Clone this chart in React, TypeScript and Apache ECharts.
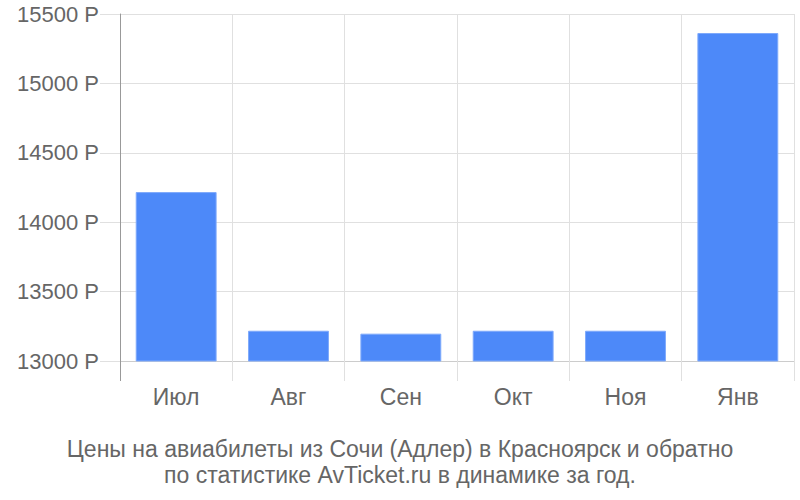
import React, { useEffect, useRef } from "react";
import * as echarts from "echarts";

const categories = ["Июл", "Авг", "Сен", "Окт", "Ноя", "Янв"];
const prices = [14217, 13218, 13197, 13218, 13218, 15363];
const titleLines = [
  "Цены на авиабилеты из Сочи (Адлер) в Красноярск и обратно",
  "по статистике AvTicket.ru в динамике за год.",
];

export default function App() {
  const ref = useRef<HTMLDivElement>(null);
  useEffect(() => {
    if (!ref.current) return;
    const chart = echarts.init(ref.current, null, { renderer: "svg" });
    const font = "'Liberation Sans', Arial, sans-serif";
    chart.setOption({
      animation: false,
      backgroundColor: "#ffffff",
      title: {
        text: titleLines.join("\n"),
        left: "center",
        top: 431,
        textStyle: {
          fontFamily: font,
          fontSize: 23,
          fontWeight: "normal",
          color: "#666666",
          lineHeight: 26,
        },
      },
      grid: { left: 120, right: 6, top: 14, bottom: 139, containLabel: false },
      xAxis: {
        type: "category",
        data: categories,
        boundaryGap: true,
        axisLine: { show: true, lineStyle: { color: "#cccccc", width: 1 } },
        axisTick: { show: true, length: 20, interval: 0, lineStyle: { color: "#e0e0e0" } },
        splitLine: { show: true, interval: 0, lineStyle: { color: "#e0e0e0" } },
        axisLabel: { margin: 24, fontFamily: font, fontSize: 23, color: "#666666", interval: 0 },
      },
      yAxis: {
        type: "value",
        min: 13000,
        max: 15500,
        interval: 500,
        axisLine: { show: true, lineStyle: { color: "#999999", width: 1 } },
        axisTick: { show: true, length: 20, lineStyle: { color: "#e0e0e0" } },
        splitLine: { show: true, lineStyle: { color: "#e0e0e0" } },
        axisLabel: {
          margin: 21,
          fontFamily: font,
          fontSize: 22,
          color: "#666666",
          formatter: (v: number) => `${v} Р`,
        },
      },
      graphic: [
        {
          type: "line",
          shape: { x1: 120.5, y1: 361, x2: 120.5, y2: 381 },
          style: { stroke: "#999999", lineWidth: 1 },
          z: 100,
        },
      ],
      series: [
        {
          type: "bar",
          data: prices,
          barCategoryGap: "28%",
          itemStyle: { color: "#4d89f9", borderColor: "#7ea9fb", borderWidth: 1 },
        },
      ],
    });
    return () => chart.dispose();
  }, []);
  return (
    <div
      ref={ref}
      style={{ position: "fixed", left: 0, top: 0, width: 800, height: 500 }}
    />
  );
}
